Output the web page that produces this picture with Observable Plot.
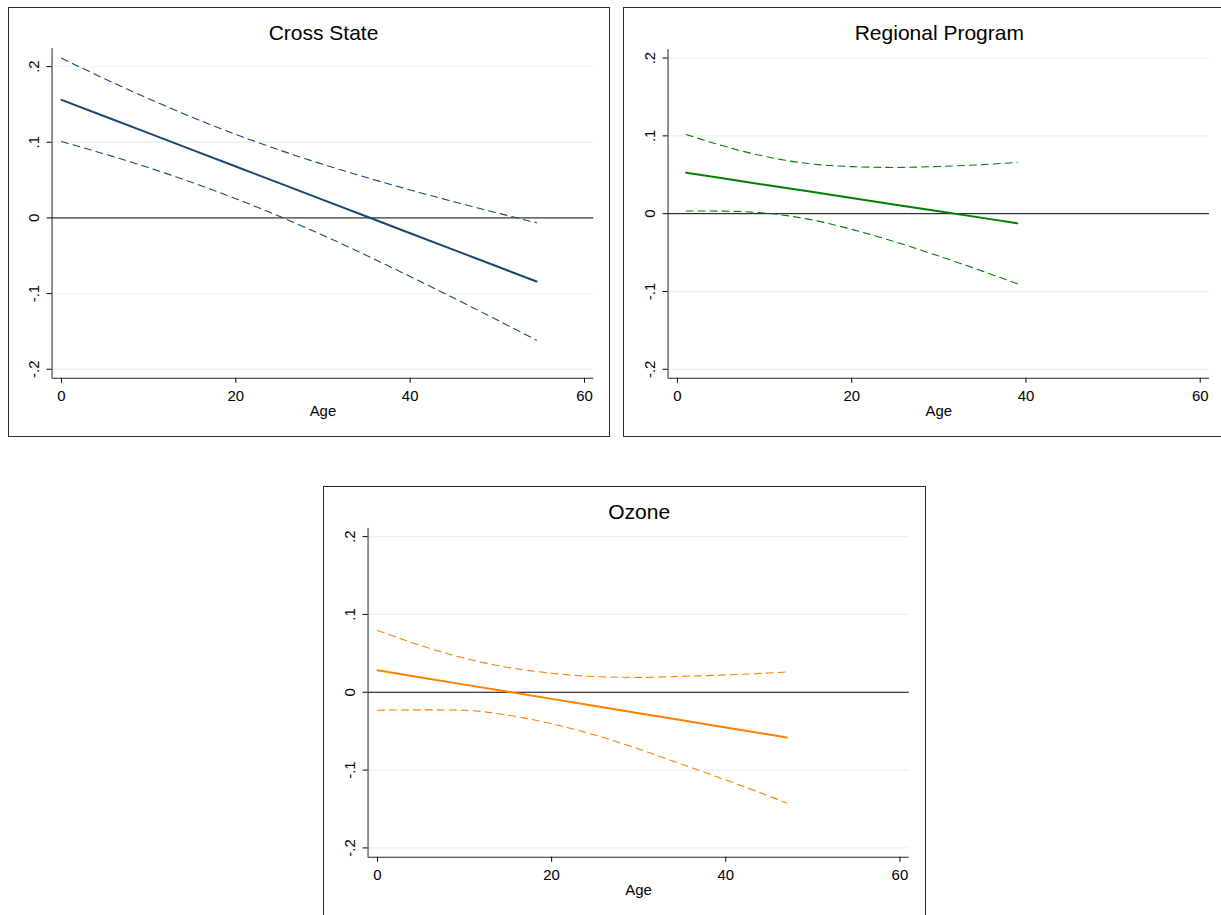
<!DOCTYPE html>
<html>
<head>
<meta charset="utf-8">
<script src="https://cdn.jsdelivr.net/npm/d3@7"></script>
<script src="https://cdn.jsdelivr.net/npm/@observablehq/plot@0.6"></script>
<style>
  html, body { margin: 0; padding: 0; background: #fff; }
  #root { position: relative; width: 1221px; height: 915px; overflow: hidden; background: #fff;
          font-family: "Liberation Sans", Arial, sans-serif; }
  .panel { position: absolute; box-sizing: border-box; border: 1px solid #2a2a2a; background: #fff; }
  .panel svg { position: absolute; left: -1px; top: -1px; }
  .panel svg text { font-size: 15px; font-family: "Liberation Sans", Arial, sans-serif; }
  .title { position: absolute; text-align: center; font-size: 21px; line-height: 21px; color: #000; white-space: nowrap; }
</style>
</head>
<body>
<div id="root"></div>
<script>
// ---- data ----
const panelTitles = ["Cross State", "Regional Program", "Ozone"];
const xTicks = [0, 20, 40, 60];
const yTicks = [-0.2, -0.1, 0, 0.1, 0.2];
const yTickLabels = ["-.2", "-.1", "0", ".1", ".2"];
const gridValues = [-0.2, -0.1, 0.1, 0.2];
const xLabel = "Age";

// Cross State
const agesCross  = [0, 5, 10, 15, 20, 25, 30, 35, 40, 45, 50, 54.5];
const estCross   = [0.156, 0.134, 0.112, 0.0899, 0.0679, 0.0459, 0.0239, 0.0019, -0.0202, -0.0422, -0.0642, -0.084];
const upperCross = [0.211, 0.1837, 0.1576, 0.1330, 0.1104, 0.0897, 0.0708, 0.0534, 0.0370, 0.0215, 0.0066, -0.0064];
const lowerCross = [0.101, 0.0843, 0.0664, 0.0468, 0.0254, 0.0021, -0.0230, -0.0496, -0.0774, -0.1059, -0.1350, -0.1616];

// Regional Program
const agesReg  = [1, 5, 10, 15, 20, 25, 30, 35, 39];
const estReg   = [0.0526, 0.0458, 0.0372, 0.0287, 0.0202, 0.0116, 0.0031, -0.0054, -0.0123];
const upperReg = [0.1018, 0.0879, 0.0737, 0.0644, 0.0605, 0.0594, 0.0607, 0.0630, 0.0659];
const lowerReg = [0.0035, 0.0033, 0.0008, -0.0070, -0.0201, -0.0362, -0.0545, -0.0738, -0.0900];

// Ozone
const agesOz  = [0, 5, 10, 15, 20, 25, 30, 35, 40, 45, 47];
const estOz   = [0.0282, 0.0190, 0.0098, 0.0007, -0.0085, -0.0177, -0.0269, -0.0361, -0.0452, -0.0544, -0.0581];
const upperOz = [0.0795, 0.0600, 0.0438, 0.0319, 0.0245, 0.0201, 0.0191, 0.0205, 0.0223, 0.0248, 0.0261];
const lowerOz = [-0.0231, -0.0226, -0.0232, -0.0295, -0.0405, -0.0550, -0.0729, -0.0927, -0.1127, -0.1336, -0.1423];

const colors = ["#1a476f", "#008000", "#ff7f00"];

// ---- layout ----
const root = document.getElementById("root");
const xDomain = [-1.08, 61.07];

function panel(cfg) {
  const data = cfg.ages.map((a, i) => ({age: a, est: cfg.est[i], upper: cfg.upper[i], lower: cfg.lower[i]}));
  const div = document.createElement("div");
  div.className = "panel";
  Object.assign(div.style, {left: cfg.left + "px", top: cfg.top + "px", width: cfg.width + "px", height: cfg.height + "px"});
  const m = cfg.margin;
  const svg = Plot.plot({
    width: cfg.width, height: cfg.height,
    marginLeft: m[0], marginRight: m[1], marginTop: m[2], marginBottom: m[3],
    style: {fontFamily: "'Liberation Sans', Arial, sans-serif", fontSize: "15px", background: "transparent", color: "#000", overflow: "visible"},
    x: {domain: xDomain},
    y: {domain: cfg.yDomain},
    marks: [
      Plot.ruleY(gridValues, {stroke: "#eaf2f3", strokeWidth: 1.3}),
      Plot.ruleY([0], {stroke: "#000", strokeWidth: 1}),
      Plot.line(data, {x: "age", y: "upper", stroke: cfg.color, strokeWidth: 1.1, strokeDasharray: "7,5", curve: "monotone-x"}),
      Plot.line(data, {x: "age", y: "lower", stroke: cfg.color, strokeWidth: 1.1, strokeDasharray: "7,5", curve: "monotone-x"}),
      Plot.line(data, {x: "age", y: "est", stroke: cfg.color, strokeWidth: 2}),
      Plot.ruleX([xDomain[0]], {stroke: "#222", strokeWidth: 1}),
      Plot.ruleY([cfg.yDomain[0]], {stroke: "#222", strokeWidth: 1}),
      Plot.axisX({ticks: xTicks, tickSize: 5, tickPadding: 7, label: null, tickFormat: d => String(d), fontSize: 15}),
      Plot.axisY({ticks: yTicks, tickSize: 5, tickPadding: 8, tickRotate: -90, label: null,
                  tickFormat: d => yTickLabels[yTicks.indexOf(d)], fontSize: 15}),
      Plot.text([xLabel], {frameAnchor: "bottom", dy: 33, text: d => d, fontSize: 15, lineAnchor: "middle", fill: "#000"})
    ]
  });
  div.appendChild(svg);
  const t = document.createElement("div");
  t.className = "title";
  t.textContent = cfg.title;
  Object.assign(t.style, {left: (m[0] - 1) + "px", width: (cfg.width - m[0] - m[1]) + "px", top: "14px"});
  div.appendChild(t);
  root.appendChild(div);
}

panel({title: panelTitles[0], ages: agesCross, est: estCross, upper: upperCross, lower: lowerCross, color: colors[0],
       yDomain: [-0.2119, 0.2237], left: 8, top: 7, width: 602, height: 430, margin: [43.7, 14.7, 41.3, 58]});
panel({title: panelTitles[1], ages: agesReg, est: estReg, upper: upperReg, lower: lowerReg, color: colors[1],
       yDomain: [-0.2115, 0.2108], left: 623, top: 7, width: 602, height: 430, margin: [44.7, 14, 42.3, 58]});
panel({title: panelTitles[2], ages: agesOz, est: estOz, upper: upperOz, lower: lowerOz, color: colors[2],
       yDomain: [-0.212, 0.2106], left: 323, top: 486, width: 603, height: 430, margin: [44.7, 15.3, 42, 58]});
</script>
</body>
</html>
